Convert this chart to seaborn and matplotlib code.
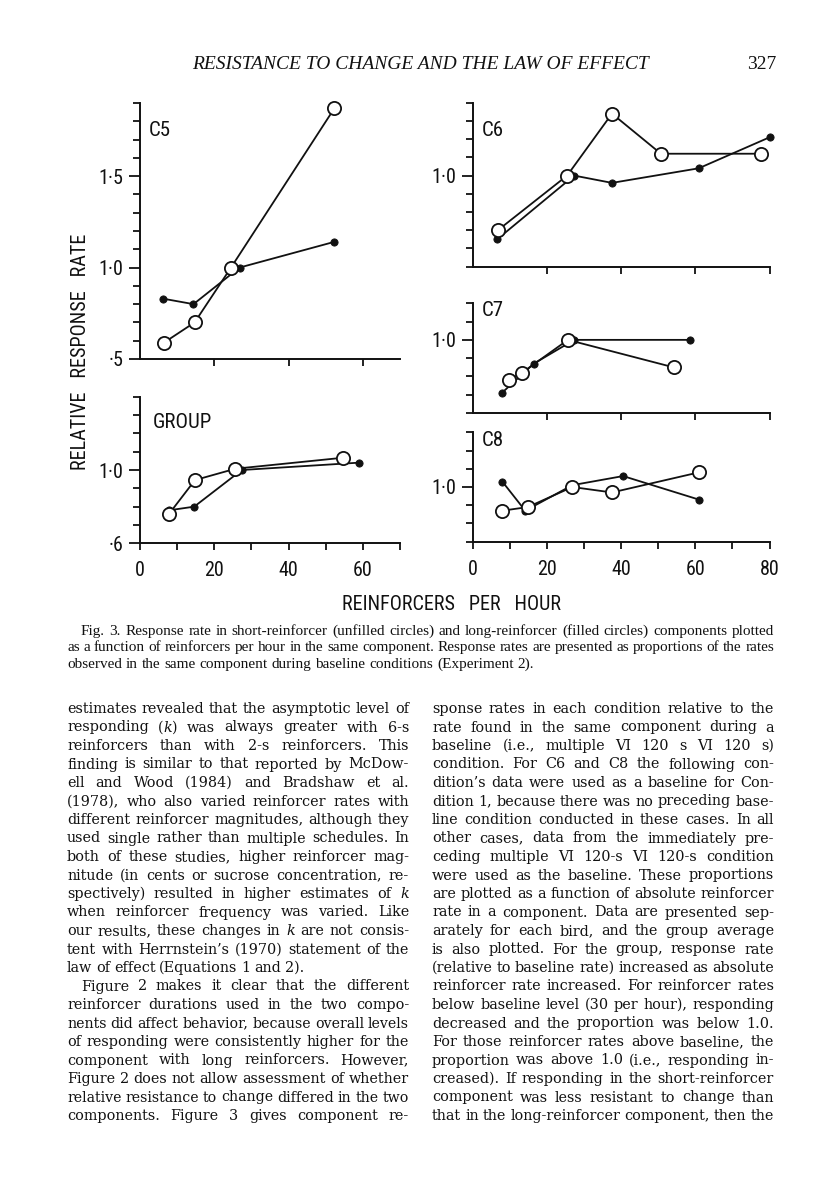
import matplotlib
matplotlib.use("Agg")
import matplotlib.pyplot as plt
from matplotlib.ticker import FixedLocator
import numpy as np
import pandas as pd
import seaborn as sns

# Relative response rate vs reinforcers per hour
# short = short-reinforcer component (unfilled), long = long-reinforcer (filled)
c5_short_x = [6.5, 14.7, 24.5, 52.3]
c5_short_y = [0.59, 0.70, 1.00, 1.87]
c5_long_x = [6.2, 14.4, 26.8, 52.2]
c5_long_y = [0.83, 0.80, 1.00, 1.14]

group_short_x = [7.8, 14.8, 25.7, 54.7]
group_short_y = [0.76, 0.945, 1.007, 1.067]
group_long_x = [7.8, 14.6, 27.4, 58.9]
group_long_y = [0.78, 0.80, 1.00, 1.04]

c6_short_x = [6.7, 25.4, 37.5, 50.7, 77.7]
c6_short_y = [0.70, 1.00, 1.34, 1.12, 1.12]
c6_long_x = [6.5, 27.3, 37.5, 60.9, 80.0]
c6_long_y = [0.65, 1.00, 0.96, 1.04, 1.21]

c7_short_x = [9.6, 13.2, 25.6, 54.1]
c7_short_y = [0.78, 0.82, 1.00, 0.85]
c7_long_x = [7.8, 16.4, 27.3, 58.5]
c7_long_y = [0.71, 0.87, 1.00, 1.00]

c8_short_x = [7.9, 14.8, 26.8, 37.5, 60.9]
c8_short_y = [0.87, 0.89, 1.00, 0.97, 1.08]
c8_long_x = [7.9, 14.1, 26.8, 40.5, 61.1]
c8_long_y = [1.03, 0.87, 1.01, 1.06, 0.93]

# tick labels
c5_yticklabels = {0.5: "·5", 1.0: "1·0", 1.5: "1·5"}
group_yticklabels = {0.6: "·6", 1.0: "1·0"}
right_yticklabels = {1.0: "1·0"}
left_xticklabels = {0: "0", 20: "20", 40: "40", 60: "60"}
right_xticklabels = {0: "0", 20: "20", 40: "40", 60: "60", 80: "80"}

header_title = "RESISTANCE TO CHANGE AND THE LAW OF EFFECT"
page_number = "327"
ylabel_text = "RELATIVE   RESPONSE   RATE"
xlabel_text = "REINFORCERS   PER   HOUR"

caption_lines = [
    "Fig. 3.  Response rate in short-reinforcer (unfilled circles) and long-reinforcer (filled circles) components plotted",
    "as a function of reinforcers per hour in the same component. Response rates are presented as proportions of the rates",
    "observed in the same component during baseline conditions (Experiment 2).",
]

left_col_lines = [
    "estimates revealed that the asymptotic level of",
    "responding (*k*) was always greater with 6-s",
    "reinforcers than with 2-s reinforcers. This",
    "finding is similar to that reported by McDow-",
    "ell and Wood (1984) and Bradshaw et al.",
    "(1978), who also varied reinforcer rates with",
    "different reinforcer magnitudes, although they",
    "used single rather than multiple schedules. In",
    "both of these studies, higher reinforcer mag-",
    "nitude (in cents or sucrose concentration, re-",
    "spectively) resulted in higher estimates of *k*",
    "when reinforcer frequency was varied. Like",
    "our results, these changes in *k* are not consis-",
    "tent with Herrnstein’s (1970) statement of the",
    "law of effect (Equations 1 and 2).",
    "Figure 2 makes it clear that the different",
    "reinforcer durations used in the two compo-",
    "nents did affect behavior, because overall levels",
    "of responding were consistently higher for the",
    "component with long reinforcers. However,",
    "Figure 2 does not allow assessment of whether",
    "relative resistance to change differed in the two",
    "components. Figure 3 gives component re-",
]

right_col_lines = [
    "sponse rates in each condition relative to the",
    "rate found in the same component during a",
    "baseline (i.e., multiple VI 120 s VI 120 s)",
    "condition. For C6 and C8 the following con-",
    "dition’s data were used as a baseline for Con-",
    "dition 1, because there was no preceding base-",
    "line condition conducted in these cases. In all",
    "other cases, data from the immediately pre-",
    "ceding multiple VI 120-s VI 120-s condition",
    "were used as the baseline. These proportions",
    "are plotted as a function of absolute reinforcer",
    "rate in a component. Data are presented sep-",
    "arately for each bird, and the group average",
    "is also plotted. For the group, response rate",
    "(relative to baseline rate) increased as absolute",
    "reinforcer rate increased. For reinforcer rates",
    "below baseline level (30 per hour), responding",
    "decreased and the proportion was below 1.0.",
    "For those reinforcer rates above baseline, the",
    "proportion was above 1.0 (i.e., responding in-",
    "creased). If responding in the short-reinforcer",
    "component was less resistant to change than",
    "that in the long-reinforcer component, then the",
]

# ---------------------------------------------------------------- styling
W, H = 816, 1200
INK = "#111111"
SANS = ["Roboto Condensed", "Roboto", "DejaVu Sans"]
SERIF = ["Liberation Serif", "DejaVu Serif"]
BODY_SERIF = ["DejaVu Serif"]

sns.set_theme(style="ticks", rc={"axes.linewidth": 1.4,
                                 "xtick.color": INK, "ytick.color": INK,
                                 "axes.edgecolor": INK})
plt.rcParams["font.family"] = SANS

fig = plt.figure(figsize=(W / 100, H / 100), dpi=100)
fig.patch.set_facecolor("white")
renderer = fig.canvas.get_renderer()


def fx(x):
    return x / W


def fy(y):
    return 1 - y / H


def add_axes_px(left, top, right, bottom):
    return fig.add_axes([left / W, 1 - bottom / H, (right - left) / W, (bottom - top) / H])


def draw_panel(ax, short_x, short_y, long_x, long_y):
    long_df = pd.DataFrame({"x": long_x, "y": long_y})
    short_df = pd.DataFrame({"x": short_x, "y": short_y})
    sns.lineplot(data=long_df, x="x", y="y", ax=ax, sort=False, estimator=None,
                 color=INK, lw=1.3, marker="o", markersize=5.2,
                 markerfacecolor=INK, markeredgecolor=INK, markeredgewidth=0.6,
                 clip_on=False, zorder=3)
    sns.lineplot(data=short_df, x="x", y="y", ax=ax, sort=False, estimator=None,
                 color=INK, lw=1.3, marker="o", markersize=9.5,
                 markerfacecolor="white", markeredgecolor=INK, markeredgewidth=1.3,
                 clip_on=False, zorder=4)
    ax.set_xlabel("")
    ax.set_ylabel("")


def style_axes(ax, ylim, xmax, ylabels, xmajor, xminor, xlabels):
    ax.set_facecolor("none")
    sns.despine(ax=ax)
    ax.set_xlim(0, xmax)
    ax.set_ylim(*ylim)
    yt = [round(v, 1) for v in np.arange(ylim[0], ylim[1] + 0.001, 0.1)]
    ymaj = [v for v in yt if v in ylabels]
    ymin = [v for v in yt if v not in ylabels]
    ax.yaxis.set_major_locator(FixedLocator(ymaj))
    ax.yaxis.set_minor_locator(FixedLocator(ymin))
    ax.set_yticklabels([ylabels[v] for v in ymaj])
    ax.xaxis.set_major_locator(FixedLocator(xmajor))
    ax.xaxis.set_minor_locator(FixedLocator(xminor))
    if xlabels:
        ax.set_xticklabels([xlabels.get(v, "") for v in xmajor])
    ax.tick_params(axis="both", which="major", direction="out", length=8, width=1.3,
                   labelsize=14.5, colors=INK, pad=4)
    ax.tick_params(axis="both", which="minor", direction="out", length=5, width=1.3)
    ax.tick_params(axis="x", which="major", length=5, pad=8, labelbottom=bool(xlabels))


# ---------------------------------------------------------------- panels
ax_c5 = add_axes_px(140, 103, 400, 359)
draw_panel(ax_c5, c5_short_x, c5_short_y, c5_long_x, c5_long_y)
style_axes(ax_c5, (0.5, 1.9), 70, c5_yticklabels, [20, 40, 60], [], None)

ax_grp = add_axes_px(140, 396.7, 400, 543.3)
draw_panel(ax_grp, group_short_x, group_short_y, group_long_x, group_long_y)
style_axes(ax_grp, (0.6, 1.4), 70, group_yticklabels, [0, 20, 40, 60], [10, 30, 50, 70],
           left_xticklabels)

ax_c6 = add_axes_px(473, 102.7, 769.5, 266.7)
draw_panel(ax_c6, c6_short_x, c6_short_y, c6_long_x, c6_long_y)
style_axes(ax_c6, (0.5, 1.4), 80, right_yticklabels, [20, 40, 60, 80], [], None)

ax_c7 = add_axes_px(473, 303.3, 769.5, 413)
draw_panel(ax_c7, c7_short_x, c7_short_y, c7_long_x, c7_long_y)
style_axes(ax_c7, (0.6, 1.2), 80, right_yticklabels, [20, 40, 60, 80], [], None)

ax_c8 = add_axes_px(473, 432.3, 769.5, 541.7)
draw_panel(ax_c8, c8_short_x, c8_short_y, c8_long_x, c8_long_y)
style_axes(ax_c8, (0.7, 1.3), 80, right_yticklabels, [0, 20, 40, 60, 80], [10, 30, 50, 70],
           right_xticklabels)

for name, (px, py) in {"C5": (149, 130), "GROUP": (153, 423), "C6": (482, 130),
                       "C7": (482, 310), "C8": (482, 440)}.items():
    fig.text(fx(px), fy(py), name, fontsize=15, color=INK, ha="left", va="center")

fig.text(fx(80), fy(352), ylabel_text, rotation=90, fontsize=14.5, color=INK,
         ha="center", va="center")
fig.text(fx(451), fy(604), xlabel_text, fontsize=14.5, color=INK, ha="center", va="center")

# ---------------------------------------------------------------- page text
def seg_width(s, size, family, style="normal"):
    t = fig.text(0, 0, s, fontsize=size, family=family, style=style)
    w = t.get_window_extent(renderer).width
    t.remove()
    return w


def word_segments(word):
    parts = word.split("*")
    return [(p, "italic" if i % 2 else "normal") for i, p in enumerate(parts) if p]


def draw_line(line, x0, x1, base, size, family, justify=True, indent=0, min_gap=3.5):
    words = line.split()
    segs = [word_segments(w) for w in words]
    while True:
        widths = [sum(seg_width(s, size, family, st) for s, st in sg) for sg in segs]
        if justify and len(words) > 1:
            gap = (x1 - x0 - indent - sum(widths)) / (len(words) - 1)
        else:
            gap = 0.26 * size * 100 / 72
        if gap >= min_gap or size < 7:
            break
        size *= 0.98
    x = x0 + indent
    for sg, w in zip(segs, widths):
        xx = x
        for s, st in sg:
            fig.text(fx(xx), fy(base), s, fontsize=size, family=family, style=st,
                     color=INK, ha="left", va="baseline")
            xx += seg_width(s, size, family, st)
        x += w + gap


# running head
fig.text(fx(420), fy(69), header_title, fontsize=14, family=SERIF, style="italic",
         color=INK, ha="center", va="baseline")
fig.text(fx(776), fy(69), page_number, fontsize=14, family=SERIF,
         color=INK, ha="right", va="baseline")

# caption
for i, line in enumerate(caption_lines):
    draw_line(line, 67, 774, 635 + i * 16.3, 11, SERIF,
              justify=(i < len(caption_lines) - 1), indent=14 if i == 0 else 0, min_gap=2.5)

# body columns
for i, line in enumerate(left_col_lines):
    draw_line(line, 67, 409, 713 + i * 18.5, 10.4, BODY_SERIF,
              justify=(i != 14), indent=14 if i == 15 else 0)
for i, line in enumerate(right_col_lines):
    draw_line(line, 432, 774, 713 + i * 18.5, 10.4, BODY_SERIF)

fig.savefig("out.png", dpi=100, facecolor="white")
